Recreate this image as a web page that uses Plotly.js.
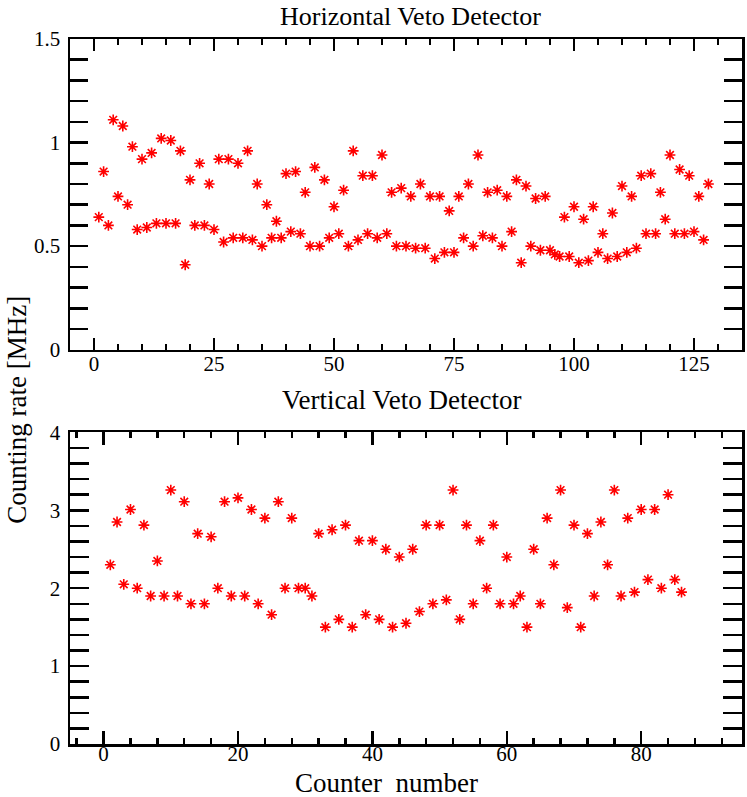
<!DOCTYPE html>
<html>
<head>
<meta charset="utf-8">
<script src="https://cdn.plot.ly/plotly-3.0.1.min.js"></script>
<style>html,body{margin:0;padding:0;background:#fff;}#chart{width:747px;height:797px;}</style>
</head>
<body>
<div id="chart"></div>
<script>
// Horizontal veto detector: counter number and counting rate [MHz]
const hCounter = [1,2,3,4,5,6,7,8,9,10,11,12,13,14,15,16,17,18,19,20,21,22,23,24,25,26,27,28,29,30,31,32,
  33,34,35,36,37,38,39,40,41,42,43,44,45,46,47,48,49,50,51,52,53,54,55,56,57,58,59,60,61,62,63,64,
  65,66,67,68,69,70,71,72,73,74,75,76,77,78,79,80,81,82,83,84,85,86,87,88,89,90,91,92,93,94,95,96,
  97,98,99,100,101,102,103,104,105,106,107,108,109,110,111,112,113,114,115,116,117,118,119,120,121,122,123,124,125,126,127,128];
const hRate = [0.64,0.86,0.60,1.11,0.74,1.08,0.70,0.98,0.58,0.92,0.59,0.95,0.61,1.02,0.61,1.01,
  0.61,0.96,0.41,0.82,0.60,0.90,0.60,0.80,0.58,0.92,0.52,0.92,0.54,0.90,0.54,0.96,
  0.53,0.80,0.50,0.70,0.54,0.62,0.54,0.85,0.57,0.86,0.56,0.76,0.50,0.88,0.50,0.82,
  0.54,0.69,0.56,0.77,0.50,0.96,0.53,0.84,0.56,0.84,0.54,0.94,0.56,0.76,0.50,0.78,
  0.50,0.74,0.49,0.80,0.49,0.74,0.44,0.74,0.47,0.67,0.47,0.74,0.54,0.80,0.50,0.94,
  0.55,0.76,0.54,0.77,0.50,0.74,0.57,0.82,0.42,0.79,0.50,0.73,0.48,0.74,0.48,0.46,
  0.45,0.64,0.45,0.69,0.42,0.63,0.43,0.69,0.47,0.56,0.44,0.66,0.45,0.79,0.47,0.74,
  0.49,0.84,0.56,0.85,0.56,0.76,0.63,0.94,0.56,0.87,0.56,0.84,0.57,0.74,0.53,0.80];

// Vertical veto detector: counter number and counting rate [MHz]
const vCounter = [1,2,3,4,5,6,7,8,9,10,11,12,13,14,15,16,17,18,19,20,21,22,23,24,25,26,27,28,29,30,
  31,32,33,34,35,36,37,38,39,40,41,42,43,44,45,46,47,48,49,50,51,52,53,54,55,56,57,58,59,60,
  61,62,63,64,65,66,67,68,69,70,71,72,73,74,75,76,77,78,79,80,81,82,83,84,85,86];
const vRate = [2.30,2.85,2.05,3.01,2.00,2.81,1.90,2.35,1.90,3.26,1.90,3.11,1.80,2.70,1.80,2.66,
  2.00,3.11,1.90,3.16,1.90,3.01,1.80,2.90,1.66,3.11,2.00,2.90,2.00,2.00,1.90,2.70,
  1.50,2.75,1.60,2.81,1.50,2.61,1.66,2.61,1.60,2.50,1.50,2.40,1.55,2.50,1.70,2.81,
  1.80,2.81,1.85,3.26,1.60,2.81,1.80,2.61,2.00,2.81,1.80,2.40,1.80,1.90,1.50,2.50,
  1.80,2.90,2.30,3.26,1.75,2.81,1.50,2.70,1.90,2.85,2.30,3.26,1.90,2.90,1.95,3.01,
  2.11,3.01,2.00,3.20,2.11,1.95];

const topTitle = "Horizontal Veto Detector";
const bottomTitle = "Vertical Veto Detector";
const yTitle = "Counting rate [MHz]";
const xTitle = "Counter\u00a0 number";

const serif = "Liberation Serif, Times New Roman, serif";
const marker = {symbol: "asterisk-open", size: 9, color: "#ff0000", line: {color: "#ff0000", width: 1.6}};

const traces = [
  {x: hCounter, y: hRate, type: "scatter", mode: "markers", marker: marker, xaxis: "x", yaxis: "y", hoverinfo: "x+y"},
  {x: vCounter, y: vRate, type: "scatter", mode: "markers", marker: marker, xaxis: "x2", yaxis: "y2", hoverinfo: "x+y"},
  // empty traces that only carry the tick-label axes
  {x: [], y: [], type: "scatter", mode: "markers", xaxis: "x3", yaxis: "y", hoverinfo: "skip"},
  {x: [], y: [], type: "scatter", mode: "markers", xaxis: "x4", yaxis: "y2", hoverinfo: "skip"}
];

function axis(extra) {
  return Object.assign({
    showline: true, linecolor: "#000", linewidth: 2.5, mirror: "allticks",
    ticks: "inside", tickcolor: "#000", tickwidth: 2.5,
    showgrid: false, zeroline: false, fixedrange: true,
    tickfont: {family: serif, size: 21, color: "#000"}
  }, extra);
}
function labelAxis(extra) {
  return Object.assign({
    showline: false, ticks: "", showgrid: false, zeroline: false, fixedrange: true,
    anchor: "free", tickmode: "linear", tick0: 0,
    tickfont: {family: serif, size: 21, color: "#000"}
  }, extra);
}

const layout = {
  width: 747, height: 797,
  margin: {l: 70, r: 5, t: 39, b: 53},
  paper_bgcolor: "#fff", plot_bgcolor: "#fff",
  showlegend: false,
  xaxis: axis({domain: [0, 1], range: [-5, 135], tickmode: "linear", tick0: 0, dtick: 25, ticklen: 12,
    minor: {dtick: 5, ticklen: 6, tickwidth: 2.5, tickcolor: "#000", ticks: "inside"}, anchor: "y", showticklabels: false}),
  yaxis: axis({domain: [0.5593, 1], range: [0, 1.5], tickmode: "linear", tick0: 0, dtick: 0.5, ticklen: 18,
    minor: {dtick: 0.1, ticklen: 8, tickwidth: 2.5, tickcolor: "#000", ticks: "inside"}, anchor: "x", ticklabelstandoff: 3}),
  xaxis2: axis({domain: [0, 1], range: [-5, 95], tickmode: "linear", tick0: 0, dtick: 20, ticklen: 13,
    minor: {tick0: 0, dtick: 4, ticklen: 6, tickwidth: 2.5, tickcolor: "#000", ticks: "inside"}, anchor: "y2", showticklabels: false}),
  yaxis2: axis({domain: [0, 0.442], range: [0, 4], tickmode: "linear", tick0: 0, dtick: 1, ticklen: 19,
    minor: {dtick: 0.2, ticklen: 10, tickwidth: 2.5, tickcolor: "#000", ticks: "inside"}, anchor: "x2", ticklabelstandoff: 3}),
  xaxis3: labelAxis({overlaying: "x", range: [-5, 135], dtick: 25, position: 0.5607}),
  xaxis4: labelAxis({overlaying: "x2", range: [-5, 95], dtick: 20, position: 0.007}),
  annotations: [
    {text: topTitle, xref: "paper", yref: "paper", x: 0.5074, y: 1.0326, xanchor: "center", yanchor: "middle",
      showarrow: false, font: {family: serif, size: 26, color: "#000"}},
    {text: bottomTitle, xref: "paper", yref: "paper", x: 0.494, y: 0.488, xanchor: "center", yanchor: "middle",
      showarrow: false, font: {family: serif, size: 27, color: "#000"}},
    {text: yTitle, xref: "paper", yref: "paper", x: -0.079, y: 0.474, xanchor: "center", yanchor: "middle",
      textangle: -90, showarrow: false, font: {family: serif, size: 27, color: "#000"}},
    {text: xTitle, xref: "paper", yref: "paper", x: 0.4717, y: -0.0553, xanchor: "center", yanchor: "middle",
      showarrow: false, font: {family: serif, size: 27, color: "#000"}}
  ]
};

Plotly.newPlot("chart", traces, layout, {staticPlot: true, displayModeBar: false});
</script>
</body>
</html>
